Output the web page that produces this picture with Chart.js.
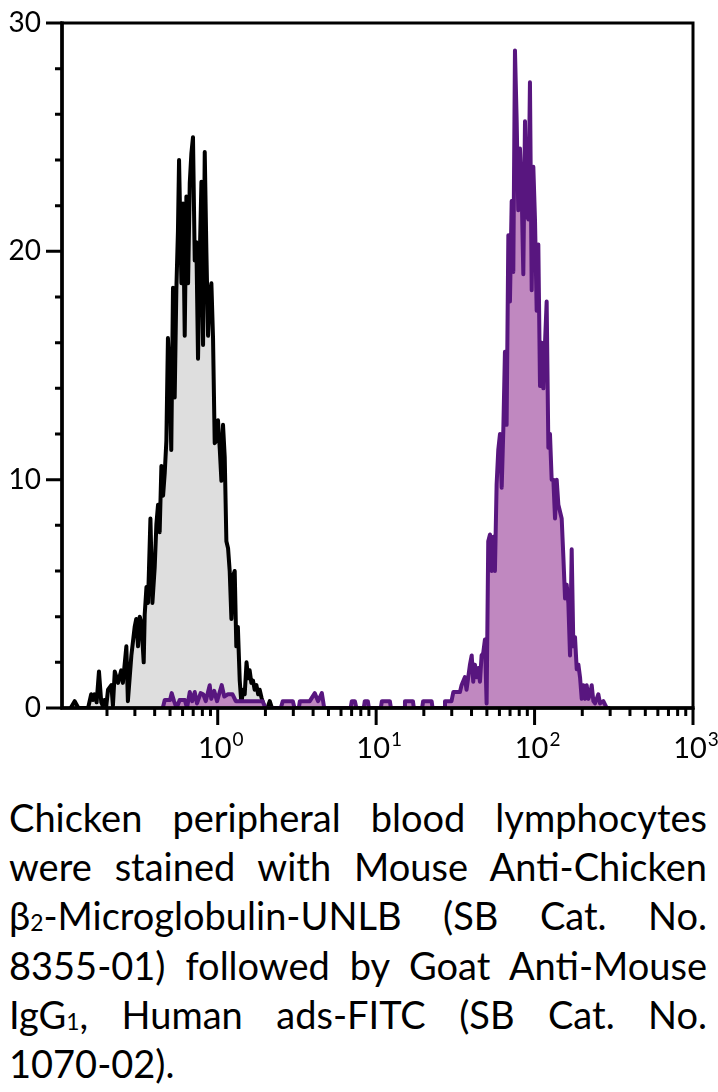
<!DOCTYPE html>
<html>
<head>
<meta charset="utf-8">
<script src="https://cdn.jsdelivr.net/npm/chart.js@4.4.1/dist/chart.umd.min.js"></script>
<style>
html,body{margin:0;padding:0;background:#fff;width:718px;height:1092px;overflow:hidden;}
#wrap{position:absolute;left:0;top:0;width:718px;height:770px;}
#cap{position:absolute;left:9px;top:793px;width:698px;font-family:Lato,"Open Sans",sans-serif;font-size:38px;line-height:49.2px;color:#000;}
#cap div{height:49.2px;overflow:visible;white-space:normal;}
#cap .j{text-align:justify;text-align-last:justify;}
#cap .s{font-size:0.6em;vertical-align:-0.03em;line-height:0;}
#cap .g{line-height:0;}
</style>
</head>
<body>
<div id="wrap"><canvas id="c" width="718" height="770"></canvas></div>
<div id="cap">
<div class="j">Chicken peripheral blood lymphocytes</div>
<div class="j">were stained with Mouse Anti-Chicken</div>
<div class="j"><span class="g">β</span><span class="s">2</span>-Microglobulin-UNLB (SB Cat. No.</div>
<div class="j">8355-01) followed by Goat Anti-Mouse</div>
<div class="j">IgG<span class="s">1</span>, Human ads-FITC (SB Cat. No.</div>
<div>1070-02).</div>
</div>
<script>
// ---- data ----
// isotype control (black outline, grey fill)
const blackX = [0.118,0.125,0.132,0.152,0.159,0.163,0.167,0.172,0.178,0.184,0.188,0.193,0.198,0.203,0.213,0.218,0.224,0.235,0.246,0.252,0.265,0.271,0.285,0.299,0.306,0.314,0.322,0.330,0.341,0.346,0.355,0.363,0.376,0.387,0.400,0.410,0.420,0.430,0.441,0.452,0.463,0.474,0.485,0.497,0.509,0.522,0.535,0.548,0.561,0.570,0.590,0.604,0.619,0.634,0.650,0.666,0.682,0.698,0.716,0.733,0.751,0.770,0.789,0.808,0.828,0.848,0.869,0.890,0.912,0.934,0.957,0.981,1.004,1.03,1.055,1.08,1.107,1.134,1.162,1.19,1.22,1.25,1.28,1.31,1.34,1.377,1.41,1.445,1.48,1.52,1.555,1.59,1.63,1.67,1.71,1.755,1.80,1.84,1.89,1.98,2.06,2.13,2.2];
const blackY = [0,0.3,0,0,0.6,0.35,0.6,0.25,1.6,0.25,0.1,0.35,0.1,0.8,1.0,0.1,1.6,1.1,1.65,1.1,2.7,0.3,2.3,3.55,3.9,2.7,4.0,3.7,2.0,4.1,5.3,4.6,8.3,4.6,6.15,8.05,8.9,7.7,10.6,9.3,10.3,11.7,16.2,14.5,11.3,18.4,13.6,18.3,20.9,24.0,18.6,22.1,16.3,22.4,18.6,23.0,24.3,25.0,19.6,20.4,15.3,19.7,23.05,15.9,24.35,20.0,16.3,18.1,18.6,16.2,11.6,11.7,12.6,11.35,9.95,12.4,11.0,7.3,7.0,6.0,3.9,5.8,6.0,2.7,3.55,1.2,0.2,0.8,0.6,2.0,1.3,1.65,1.1,1.2,0.8,1.0,0.6,0.8,0.45,0,0,0.3,0];
// stained sample (purple outline, light purple fill)
const purpleX = [0.45,0.463,0.50,0.512,0.53,0.55,0.575,0.62,0.64,0.666,0.69,0.716,0.74,0.78,0.81,0.84,0.89,0.91,0.95,0.99,1.06,1.10,1.16,1.24,1.30,1.44,1.60,1.75,1.92,2.0,2.5,2.575,2.98,3.05,3.25,3.30,3.81,4.10,4.3,4.54,4.7,6.9,7.02,7.34,7.5,8.35,8.48,8.86,9.0,10.7,10.87,12.2,12.4,15.0,15.2,17.06,17.3,19.5,19.8,22.4,22.7,27.0,27.2,29.9,30.7,32.2,33.8,34.6,36.3,37.2,39.1,40.1,41.0,42.0,43.1,44.1,45.2,46.3,47.4,48.6,49.8,51.0,52.3,53.6,54.9,56.2,57.6,59.0,60.5,62.0,63.5,65.0,66.6,68.3,69.9,71.7,73.4,75.2,77.1,78.9,80.9,82.9,84.9,87.0,89.1,91.3,93.5,95.9,98.2,100.6,103.1,105.6,108.2,110.9,113.6,116.4,119.2,122.2,125.1,128.2,131.4,134.6,137.9,141.3,148.3,152,155.7,159.5,163.4,167.4,171.5,175.7,180,184.5,189,193.6,198.4,203.2,208.2,213.3,218.5,223.9,229.4,235,240.8,252.7,258.9,271.7,285.2,300];
const purpleY = [0,0.35,0.35,0.65,0.3,0,0.35,0.35,0,0.7,0.3,0.7,0.2,0.65,0.6,0.3,1.0,0.4,0.75,0.3,1.0,0.5,0.6,0.6,0.3,0.3,0.3,0.3,0.3,0,0,0.3,0.3,0,0,0.3,0.3,0.65,0.3,0.65,0,0,0.3,0.3,0,0,0.3,0.3,0,0,0.3,0.3,0,0,0.3,0.3,0,0,0.3,0.3,0,0,0.3,0.3,0.7,0.7,0.7,1.0,1.35,0.8,1.9,2.3,1.15,1.9,1.35,1.75,1.15,2.3,2.4,3.0,0.2,7.3,7.6,6.0,7.5,6.0,9.8,11.3,12.0,9.65,12.2,15.6,12.4,20.7,17.8,22.2,19.1,28.8,25.7,21.8,24.5,22.6,19.0,25.7,21.6,21.4,27.4,18.3,23.7,21.4,17.4,20.3,14.1,16.0,14.0,16.0,17.8,11.4,12.0,10.0,10.0,8.3,10.0,8.9,8.3,6.6,4.8,5.4,4.6,2.3,6.95,2.7,3.1,1.7,1.9,1.35,0.4,1.0,0.4,1.0,0.4,0.6,1.0,0.3,0.2,0.6,0.2,0.3,0,0];

// axis ranges and tick labels
const xRange = [0.104, 1000];
const yRange = [0, 30];
const yStep = 2;
const yLabelValues = [0, 10, 20, 30];
const xDecades = [1, 10, 100, 1000];
const xLabelBase = ['10', '10', '10', '10'];
const xLabelExp = ['0', '1', '2', '3'];

const FONT = 'Lato, "Open Sans", sans-serif';

const framePlugin = {
  id: 'frame',
  afterDatasetsDraw(chart) {
    const ctx = chart.ctx;
    const a = chart.chartArea;
    const xs = chart.scales.x, ys = chart.scales.y;
    ctx.save();
    ctx.strokeStyle = '#000';
    ctx.fillStyle = '#000';
    ctx.lineCap = 'butt';
    ctx.lineWidth = 3;
    // box
    ctx.strokeRect(a.left, a.top, a.right - a.left, a.bottom - a.top);
    ctx.lineWidth = 3.5;
    ctx.beginPath();
    ctx.moveTo(a.left, a.top - 1.5); ctx.lineTo(a.left, a.bottom + 1.75);
    ctx.moveTo(a.left - 1.75, a.bottom); ctx.lineTo(a.right + 1.5, a.bottom);
    ctx.stroke();
    // y ticks
    ctx.lineWidth = 3;
    ctx.beginPath();
    ys.ticks.forEach(t => {
      const py = ys.getPixelForValue(t.value);
      const len = yLabelValues.includes(t.value) ? 16 : 7;
      ctx.moveTo(a.left - len, py); ctx.lineTo(a.left, py);
    });
    // x ticks (1..9 x 10^n)
    xs.ticks.forEach(t => {
      const v = t.value;
      const e = Math.floor(Math.log10(v) + 1e-9);
      const m = v / Math.pow(10, e);
      if (Math.abs(m - Math.round(m)) > 1e-6) return;
      const px = xs.getPixelForValue(v);
      const len = Math.round(m) === 1 ? 17 : 8;
      ctx.moveTo(px, a.bottom); ctx.lineTo(px, a.bottom + len);
    });
    ctx.stroke();
    // x labels 10^n
    ctx.textBaseline = 'alphabetic';
    ctx.textAlign = 'left';
    xDecades.forEach((v, i) => {
      const px = xs.getPixelForValue(v);
      ctx.font = '29px ' + FONT;
      const wb = ctx.measureText(xLabelBase[i]).width;
      const start = px - 3 - wb / 2;
      ctx.fillText(xLabelBase[i], start, 758);
      ctx.font = '19px ' + FONT;
      ctx.fillText(xLabelExp[i], start + wb + 1, 746);
    });
    ctx.restore();
  }
};

function build() {
  const toPts = (X, Y) => X.map((x, i) => ({x: x, y: Y[i]}));
  new Chart(document.getElementById('c'), {
    type: 'line',
    data: {
      datasets: [
        {
          label: 'Stained',
          data: toPts(purpleX, purpleY),
          borderColor: '#58167f',
          backgroundColor: '#c088c0',
          borderWidth: 4,
          fill: 'origin',
          pointRadius: 0,
          tension: 0,
          borderJoinStyle: 'round'
        },
        {
          label: 'Control',
          data: toPts(blackX, blackY),
          borderColor: '#000000',
          backgroundColor: '#dedede',
          borderWidth: 4,
          fill: 'origin',
          pointRadius: 0,
          tension: 0,
          borderJoinStyle: 'round'
        }
      ]
    },
    options: {
      responsive: false,
      animation: false,
      devicePixelRatio: 1,
      layout: {padding: {top: 23, right: 25, left: 0, bottom: 0}},
      plugins: {legend: {display: false}, tooltip: {enabled: false}},
      scales: {
        x: {
          type: 'logarithmic',
          min: xRange[0], max: xRange[1],
          grid: {display: false, drawTicks: false},
          border: {display: false},
          ticks: {display: false},
          afterFit: s => { s.height = 62; s.paddingLeft = 0; s.paddingRight = 0; }
        },
        y: {
          type: 'linear',
          min: yRange[0], max: yRange[1],
          grid: {display: false, drawTicks: false},
          border: {display: false},
          ticks: {
            stepSize: yStep,
            autoSkip: false,
            padding: 21,
            color: '#000',
            font: {family: FONT, size: 28},
            callback: v => yLabelValues.includes(v) ? String(v) : ''
          },
          afterFit: s => { s.width = 62; s.paddingTop = 0; s.paddingBottom = 0; }
        }
      }
    },
    plugins: [framePlugin]
  });
}

Promise.all([
  document.fonts.load('29px Lato'),
  document.fonts.load('19px Lato'),
  document.fonts.load('28px Lato')
]).then(build, build);
</script>
</body>
</html>
